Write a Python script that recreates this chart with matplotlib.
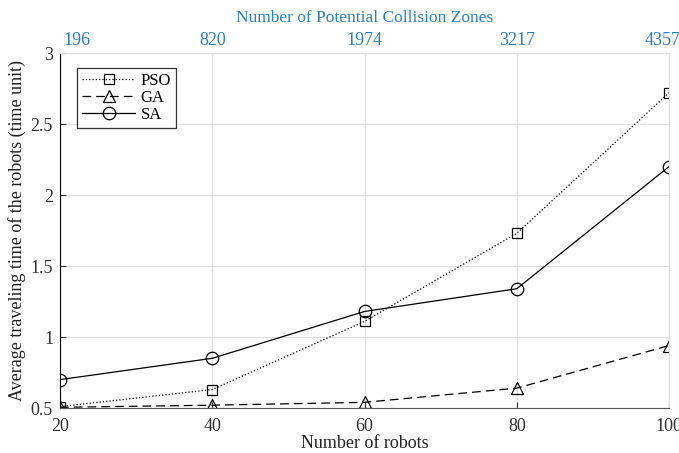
import matplotlib
matplotlib.use("Agg")
import matplotlib.pyplot as plt
import matplotlib.transforms as mtrans

robots = [20, 40, 60, 80, 100]
zones = ["196", "820", "1974", "3217", "4357"]
pso = [0.51, 0.63, 1.11, 1.73, 2.72]
ga = [0.505, 0.52, 0.54, 0.64, 0.94]
sa = [0.70, 0.85, 1.18, 1.34, 2.20]

plt.rcParams['font.family'] = ['Liberation Serif', 'DejaVu Serif']
blue = '#2b80c4'

fig = plt.figure(figsize=(6.79, 4.53), dpi=100)
ax = fig.add_axes([0.0884, 0.0993, 0.8969, 0.7837])

ax.plot(robots, pso, linestyle=':', color='black', lw=0.9, marker='s', ms=6.5,
        mfc='none', mec='black', mew=0.9, label='PSO')
ax.plot(robots, ga, linestyle=(0, (7, 4)), color='black', lw=0.9, marker='^', ms=9,
        mfc='none', mec='black', mew=0.9, label='GA')
ax.plot(robots, sa, linestyle='-', color='black', lw=0.9, marker='o', ms=9,
        mfc='none', mec='black', mew=0.9, label='SA')

ax.set_xlim(20, 100)
ax.set_ylim(0.5, 3)
ax.set_xticks(robots)
ax.set_yticks([0.5, 1, 1.5, 2, 2.5, 3])
ax.set_yticklabels(['0.5', '1', '1.5', '2', '2.5', '3'])
ax.grid(True, color='#e0e0e0', lw=0.9)
ax.set_axisbelow(True)
for s in ['top', 'right']:
    ax.spines[s].set_color('#e0e0e0')
ax.spines['left'].set_color('black')
ax.spines['bottom'].set_color('#555555')
ax.tick_params(direction='in', labelsize=13, length=4, colors='#333333')
ax.tick_params(axis='x', pad=7)
ax.tick_params(axis='y', pad=5)
ax.set_xlabel('Number of robots', fontsize=13, color='#222222', labelpad=0)
ax.set_ylabel('Average traveling time of the robots (time unit)', fontsize=13,
              color='#222222', labelpad=3)

ax2 = ax.twiny()
ax2.set_xlim(ax.get_xlim())
ax2.set_xticks(robots)
ax2.set_xticklabels(zones)
ax2.tick_params(axis='x', length=0, labelsize=13, labelcolor=blue, pad=3)
for s in ax2.spines.values():
    s.set_visible(False)
ax2.set_xlabel('Number of Potential Collision Zones', fontsize=12.5, color=blue, labelpad=7)
labels = ax2.get_xticklabels()
labels[0].set_horizontalalignment('left')
labels[0].set_transform(labels[0].get_transform() +
                        mtrans.ScaledTranslation(3 / 100, 0, fig.dpi_scale_trans))
labels[-1].set_transform(labels[-1].get_transform() +
                         mtrans.ScaledTranslation(-6 / 100, 0, fig.dpi_scale_trans))

leg = ax.legend(loc='upper left', bbox_to_anchor=(0.028, 0.958), fontsize=12,
                frameon=True, fancybox=False, edgecolor='black', handlelength=3.2,
                borderpad=0.3, labelspacing=0.05, handletextpad=0.3, borderaxespad=0)
leg.get_frame().set_linewidth(0.9)

fig.savefig('out.png', dpi=100)
